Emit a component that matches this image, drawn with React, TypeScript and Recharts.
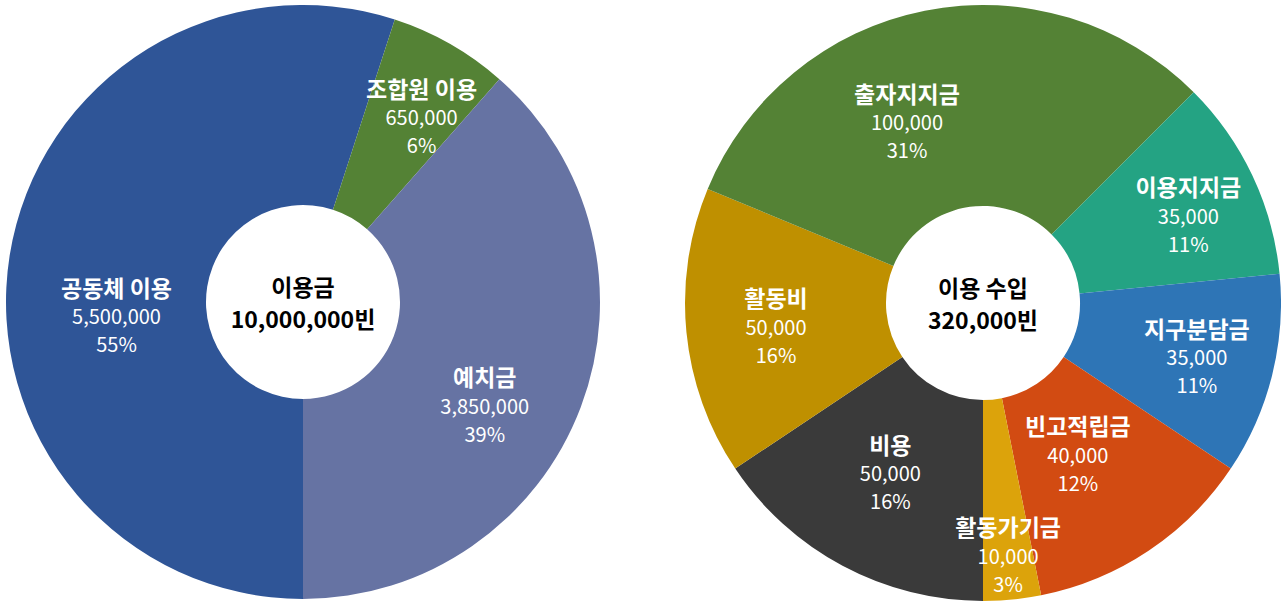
import React from 'react';
import { PieChart, Pie, Cell } from 'recharts';

// ---- data ----
const LEFT_NAMES = ['공동체 이용', '조합원 이용', '예치금'];
const LEFT_VALUES = [5500000, 650000, 3850000];
const LEFT_COLORS = ['#2F5597', '#548235', '#6673A3'];
const LEFT_CENTER = ['이용금', '10,000,000빈'];

const RIGHT_NAMES = ['비용', '활동비', '출자지지금', '이용지지금', '지구분담금', '빈고적립금', '활동가기금'];
const RIGHT_VALUES = [50000, 50000, 100000, 35000, 35000, 40000, 10000];
const RIGHT_COLORS = ['#3A3A3A', '#BF9000', '#548235', '#24A383', '#2E75B6', '#D24B12', '#DCA30B'];
const RIGHT_CENTER = ['이용 수입', '320,000빈'];

// label placement nudges (style only)
const LABEL_NUDGE: Record<string, [number, number]> = {
  '공동체 이용': [16, 46],
  '조합원 이용': [17, -7],
  '예치금': [-10, 31],
  '비용': [4, -11],
  '활동비': [-3, 3],
  '출자지지금': [-36, 20],
  '이용지지금': [20, 0],
  '지구분담금': [15, 4],
  '빈고적립금': [-19, -19],
  '활동가기금': [5, 48],
};

const FONT = '"Noto Sans CJK KR", "Noto Sans", sans-serif';

function roundedPercents(values: number[]): number[] {
  const total = values.reduce((a, b) => a + b, 0);
  const raw = values.map((v) => (v / total) * 100);
  const floors = raw.map((r) => Math.floor(r));
  let remaining = 100 - floors.reduce((a, b) => a + b, 0);
  const order = raw
    .map((r, i) => ({ i, rem: r - Math.floor(r), v: values[i] }))
    .sort((a, b) => (b.rem - a.rem) || (b.v - a.v));
  const out = floors.slice();
  for (const o of order) {
    if (remaining <= 0) break;
    out[o.i] += 1;
    remaining--;
  }
  return out;
}

function makeData(names: string[], values: number[]) {
  const pct = roundedPercents(values);
  return names.map((name, i) => ({ name, value: values[i], pct: pct[i] }));
}

const leftData = makeData(LEFT_NAMES, LEFT_VALUES);
const rightData = makeData(RIGHT_NAMES, RIGHT_VALUES);

const RADIAN = Math.PI / 180;
const LABEL_R = 205;

function makeLabel(center: string[]) {
  return (props: any) => {
    const { cx, cy, midAngle, index, name, value, payload } = props;
    const nm = name ?? payload?.name;
    const nudge = LABEL_NUDGE[nm] || [0, 0];
    const x = cx + LABEL_R * Math.cos(-midAngle * RADIAN) + nudge[0];
    const y = cy + LABEL_R * Math.sin(-midAngle * RADIAN) + nudge[1];
    const pct = payload?.pct ?? props.pct;
    return (
      <g>
        <text x={x} y={y - 29} fill="#FFFFFF" textAnchor="middle" dominantBaseline="central"
          style={{ fontFamily: FONT, fontSize: 23, fontWeight: 700 }}>{nm}</text>
        <text x={x} y={y} fill="#FFFFFF" textAnchor="middle" dominantBaseline="central"
          style={{ fontFamily: FONT, fontSize: 20, fontWeight: 400 }}>{Number(value).toLocaleString('en-US')}</text>
        <text x={x} y={y + 28} fill="#FFFFFF" textAnchor="middle" dominantBaseline="central"
          style={{ fontFamily: FONT, fontSize: 20, fontWeight: 400 }}>{pct}%</text>
        {index === 0 && (
          <g>
            <text x={cx} y={cy - 16} fill="#000000" textAnchor="middle" dominantBaseline="central"
              style={{ fontFamily: FONT, fontSize: 23, fontWeight: 700 }}>{center[0]}</text>
            <text x={cx} y={cy + 16} fill="#000000" textAnchor="middle" dominantBaseline="central"
              style={{ fontFamily: FONT, fontSize: 23, fontWeight: 700 }}>{center[1]}</text>
          </g>
        )}
      </g>
    );
  };
}

export default function App() {
  return (
    <div style={{ position: 'absolute', left: 0, top: 0, width: 1281, height: 602, background: '#FFFFFF' }}>
      <PieChart width={1281} height={602} margin={{ top: 0, right: 0, bottom: 0, left: 0 }}>
        <Pie
          data={leftData}
          dataKey="value"
          nameKey="name"
          cx={303}
          cy={302}
          innerRadius={97}
          outerRadius={297}
          startAngle={-90}
          endAngle={-450}
          stroke="none"
          labelLine={false}
          label={makeLabel(LEFT_CENTER)}
          isAnimationActive={false}
        >
          {leftData.map((d, i) => (
            <Cell key={d.name} fill={LEFT_COLORS[i]} />
          ))}
        </Pie>
        <Pie
          data={rightData}
          dataKey="value"
          nameKey="name"
          cx={983}
          cy={303}
          innerRadius={97}
          outerRadius={298}
          startAngle={-90}
          endAngle={-450}
          stroke="none"
          labelLine={false}
          label={makeLabel(RIGHT_CENTER)}
          isAnimationActive={false}
        >
          {rightData.map((d, i) => (
            <Cell key={d.name} fill={RIGHT_COLORS[i]} />
          ))}
        </Pie>
      </PieChart>
    </div>
  );
}
